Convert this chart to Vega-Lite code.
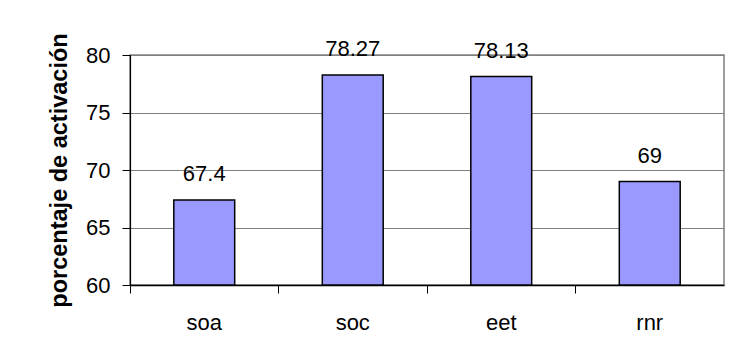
{
  "$schema": "https://vega.github.io/schema/vega-lite/v6.json",
  "autosize": {"type": "none"},
  "padding": {"left": 130, "top": 55, "right": 8, "bottom": 73},
  "width": 594,
  "height": 230,
  "background": "white",
  "data": {
    "values": [
      {"grupo": "soa", "porcentaje": 67.4},
      {"grupo": "soc", "porcentaje": 78.27},
      {"grupo": "eet", "porcentaje": 78.13},
      {"grupo": "rnr", "porcentaje": 69}
    ]
  },
  "encoding": {
    "x": {
      "field": "grupo",
      "type": "nominal",
      "sort": null,
      "scale": {"paddingInner": 0.59, "paddingOuter": 0.295},
      "axis": {
        "title": null,
        "labelAngle": 0,
        "bandPosition": -0.7195,
        "tickSize": 8,
        "tickColor": "black",
        "domainColor": "black",
        "domainWidth": 1.5,
        "labelPadding": 19,
        "labelFontSize": 22,
        "labelFont": "Liberation Sans",
        "labelColor": "black",
        "grid": false
      }
    },
    "y": {
      "field": "porcentaje",
      "type": "quantitative",
      "scale": {"domain": [60, 80], "nice": false, "zero": false},
      "axis": {
        "title": "porcentaje de activación",
        "titleFont": "Liberation Sans",
        "titleFontSize": 23.5,
        "titleFontWeight": "bold",
        "titleColor": "black",
        "titlePadding": 14,
        "values": [60, 65, 70, 75, 80],
        "tickSize": 8,
        "tickColor": "black",
        "domainColor": "black",
        "domainWidth": 1.2,
        "labelPadding": 12,
        "labelFontSize": 22,
        "labelFont": "Liberation Sans",
        "labelColor": "black",
        "grid": true,
        "gridColor": "#808080",
        "gridWidth": 1,
        "gridOpacity": 1
      }
    }
  },
  "layer": [
    {
      "mark": {"type": "bar", "fill": "#9999FF", "stroke": "black", "strokeWidth": 1.5},
      "encoding": {
        "y2": {"datum": 60}
      }
    },
    {
      "mark": {"type": "text", "baseline": "alphabetic", "dy": -19, "fontSize": 22, "font": "Liberation Sans", "color": "black"},
      "encoding": {
        "text": {"field": "porcentaje", "type": "quantitative", "format": "~g"}
      }
    }
  ],
  "config": {
    "view": {"stroke": "#808080", "strokeWidth": 1.5}
  }
}
